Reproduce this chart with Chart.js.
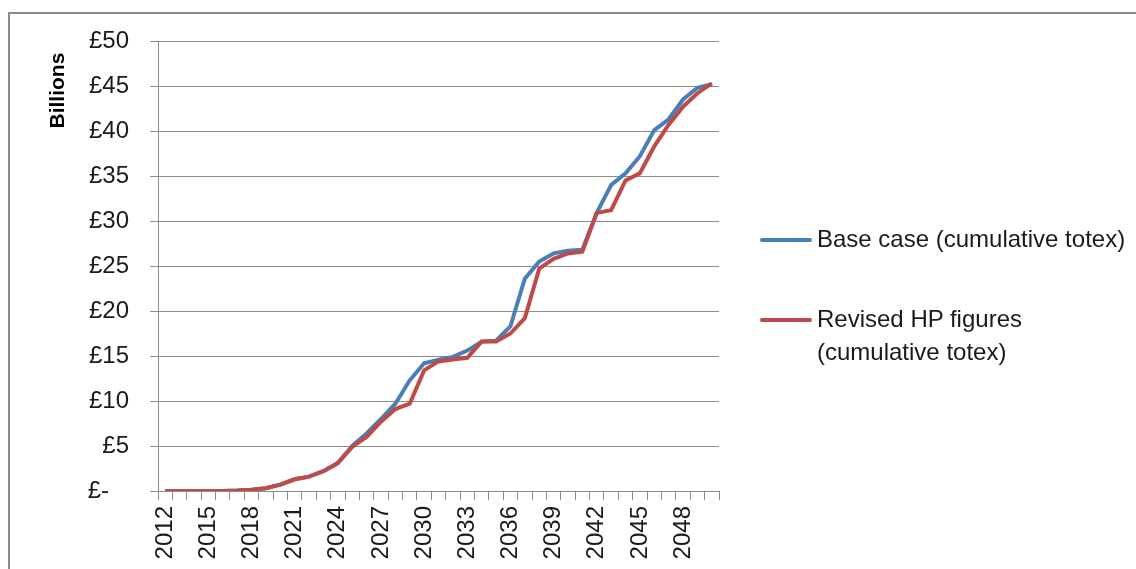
<!DOCTYPE html>
<html>
<head>
<meta charset="utf-8">
<script src="https://cdn.jsdelivr.net/npm/chart.js@4"></script>
<style>
  html, body { margin: 0; padding: 0; background: #fff; }
  #wrap { position: relative; width: 1136px; height: 569px; overflow: hidden; }
  #frame { position: absolute; left: 8px; top: 12px; right: -4px; bottom: -4px;
           border-top: 2px solid #8a8a8a; border-left: 2px solid #8a8a8a; }
  #legend { position: absolute; left: 760px; top: 222px; font-family: "Liberation Sans", Arial, sans-serif;
            font-size: 24px; color: #1a1a1a; line-height: 33px; }
  .item { display: flex; align-items: flex-start; margin-bottom: 47px; }
  .swatch { width: 52px; height: 4px; border-radius: 2px; margin-top: 16px; margin-right: 5px; flex: none; }
</style>
</head>
<body>
<div id="wrap">
  <div id="frame"></div>
  <canvas id="totexChart" width="1136" height="569"></canvas>
  <div id="legend"></div>
</div>
<script>
// years 2012 - 2050
const years = [
  "2012", "2013", "2014", "2015", "2016", "2017", "2018", "2019", "2020", "2021",
  "2022", "2023", "2024", "2025", "2026", "2027", "2028", "2029", "2030", "2031",
  "2032", "2033", "2034", "2035", "2036", "2037", "2038", "2039", "2040", "2041",
  "2042", "2043", "2044", "2045", "2046", "2047", "2048", "2049", "2050",
];

// £ billions, cumulative
const baseCase = [
  0, 0, 0, 0, 0, 0.05, 0.15, 0.3, 0.7, 1.3,
  1.6, 2.2, 3.1, 5.0, 6.4, 8.0, 9.7, 12.3, 14.2, 14.6,
  14.9, 15.6, 16.6, 16.7, 18.3, 23.6, 25.5, 26.4, 26.7, 26.8,
  30.9, 34.0, 35.3, 37.2, 40.1, 41.3, 43.5, 44.8, 45.2,
];
const revisedHP = [
  0, 0, 0, 0, 0, 0.05, 0.15, 0.3, 0.7, 1.3,
  1.6, 2.2, 3.1, 4.9, 6.0, 7.7, 9.1, 9.7, 13.4, 14.4,
  14.6, 14.8, 16.6, 16.6, 17.5, 19.2, 24.7, 25.8, 26.4, 26.6,
  30.9, 31.2, 34.5, 35.3, 38.3, 40.7, 42.7, 44.2, 45.3,
];

const yTicks = [0, 5, 10, 15, 20, 25, 30, 35, 40, 45, 50];
const seriesNames = [["Base case (cumulative totex)"], ["Revised HP figures", "(cumulative totex)"]];
const seriesColors = ["#4a7ebb", "#be4b48"];

const font = "'Liberation Sans', Arial, sans-serif";
const gridColor = "#8c8c8c";

const ctx = document.getElementById("totexChart").getContext("2d");
new Chart(ctx, {
  type: "line",
  data: {
    labels: years,
    datasets: [
      {
        label: seriesNames[0].join(" "),
        data: baseCase,
        borderColor: seriesColors[0],
        borderWidth: 4,
        pointRadius: 0,
        tension: 0,
        order: 1,
      },
      {
        label: seriesNames[1].join(" "),
        data: revisedHP,
        borderColor: seriesColors[1],
        borderWidth: 4,
        pointRadius: 0,
        tension: 0,
        order: 0,
      },
    ],
  },
  options: {
    responsive: false,
    animation: false,
    layout: { padding: { left: 42, right: 417, top: 41, bottom: 0 } },
    plugins: {
      legend: { display: false },
      tooltip: { enabled: false },
    },
    scales: {
      x: {
        type: "category",
        offset: true,
        afterFit: (scale) => { scale.height = 78; },
        border: { color: gridColor, width: 1 },
        grid: { offset: true, drawOnChartArea: false, drawTicks: true, tickLength: 9, color: gridColor },
        ticks: {
          autoSkip: false,
          maxRotation: 90,
          minRotation: 90,
          padding: 6,
          color: "#1a1a1a",
          font: { family: font, size: 24 },
          callback: (v, i) => (i % 3 === 0 ? years[i] : ""),
        },
      },
      y: {
        min: 0,
        max: 50,
        afterFit: (scale) => { scale.width = 116; },
        afterBuildTicks: (scale) => { scale.ticks = yTicks.map((v) => ({ value: v })); },
        border: { color: gridColor, width: 1 },
        grid: { color: gridColor, lineWidth: 1, tickLength: 8 },
        ticks: {
          padding: 21,
          color: "#1a1a1a",
          font: { family: font, size: 24 },
          callback: (v) => (v === 0 ? "£-   " : "£" + v),
        },
        title: {
          display: true,
          text: "Billions  ",
          align: "end",
          color: "#000",
          font: { family: font, size: 21, weight: "bold" },
        },
      },
    },
  },
});

// legend (right side)
const legendEl = document.getElementById("legend");
seriesNames.forEach((lines, i) => {
  const item = document.createElement("div");
  item.className = "item";
  const sw = document.createElement("div");
  sw.className = "swatch";
  sw.style.background = seriesColors[i];
  const txt = document.createElement("div");
  txt.innerHTML = lines.join("<br>");
  item.appendChild(sw);
  item.appendChild(txt);
  legendEl.appendChild(item);
});
</script>
</body>
</html>
